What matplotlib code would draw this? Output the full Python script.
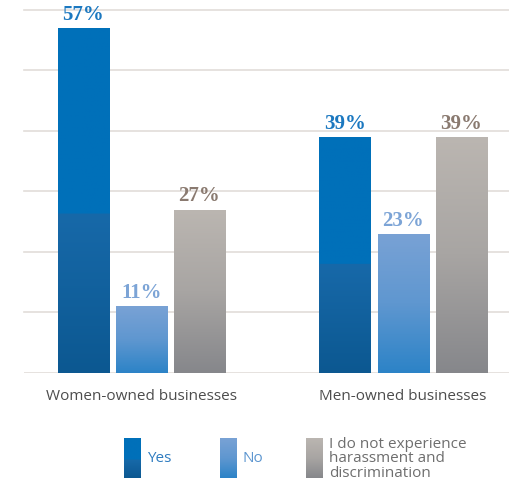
import numpy as np
import matplotlib
matplotlib.use("Agg")
import matplotlib.pyplot as plt
from matplotlib.colors import LinearSegmentedColormap

# data
groups = ["Women-owned businesses", "Men-owned businesses"]
series = ["Yes", "No", "I do not experience\nharassment and\ndiscrimination"]
yes_vals = [57, 39]
no_vals = [11, 23]
none_vals = [27, 39]

label_colors = ["#1b78c0", "#7ca4d6", "#8a7a70"]
legend_text_colors = ["#2f7cc0", "#5d96d0", "#6e6e6e"]
# gradient stops (fraction of bar height from bottom, colour)
grads = [
    [(0.0, "#0c5891"), (0.46, "#1769a9"), (0.462, "#0070b9"), (1.0, "#0070ba")],
    [(0.0, "#2c83c7"), (0.5, "#5f97d0"), (1.0, "#79a2d5")],
    [(0.0, "#86878b"), (0.5, "#a8a5a3"), (1.0, "#bbb6b1")],
]
cmaps = [LinearSegmentedColormap.from_list("g%d" % i, g) for i, g in enumerate(grads)]

W, H = 510, 481
fig = plt.figure(figsize=(W / 100, H / 100), dpi=100)
ax = fig.add_axes([24 / W, (H - 374) / H, (W - 24) / W, (374 - 10.7) / H])

step = 58 / 261.5
width = 51 / 261.5
x = np.arange(len(groups))
grad_img = np.linspace(0, 1, 256).reshape(-1, 1)

for g in [10, 20, 30, 40, 50, 60]:
    ax.axhline(g, color="#e2ddd9", lw=1.2, zorder=0, clip_on=False)
ax.axhline(0, color="#e2ddd9", lw=1.2, zorder=0)

for i, vals in enumerate([yes_vals, no_vals, none_vals]):
    xs = x + (i - 1) * step
    bars = ax.bar(xs, vals, width, color="none", zorder=2)
    for b, v in zip(bars, vals):
        x0 = b.get_x()
        im = ax.imshow(grad_img, cmap=cmaps[i], origin="lower", aspect="auto",
                       extent=(x0, x0 + width, 0, v), zorder=1)
        im.set_clip_path(b)
        ax.annotate("%d%%" % v, (b.get_x() + width / 2, v), xytext=(0, 3),
                    textcoords="offset points", ha="center", va="bottom",
                    fontsize=15, fontweight="bold", family="Liberation Serif",
                    color=label_colors[i])

ax.set_xlim(-0.449, 1.409)
ax.set_ylim(0, 60)
for s in ax.spines.values():
    s.set_visible(False)
ax.set_yticks([])
ax.set_xticks(x)
ax.set_xticklabels(groups, fontsize=11, family="Open Sans", color="#4d4d4d")
ax.tick_params(axis="x", length=0, pad=11)

# legend drawn in pixel coordinates
lax = fig.add_axes([0, 0, 1, 1], zorder=5)
lax.axis("off")
leg_x = [124, 220, 306]
for i, name in enumerate(series):
    lax.imshow(grad_img, cmap=cmaps[i], origin="lower", aspect="auto",
               extent=(leg_x[i], leg_x[i] + 17, 479, 439))
    lax.text(leg_x[i] + 23, 459, name, fontsize=11, family="Open Sans",
             color=legend_text_colors[i], va="center", ha="left", linespacing=0.95)
lax.set_xlim(0, W)
lax.set_ylim(H, 0)

fig.savefig("out.png", dpi=100)
